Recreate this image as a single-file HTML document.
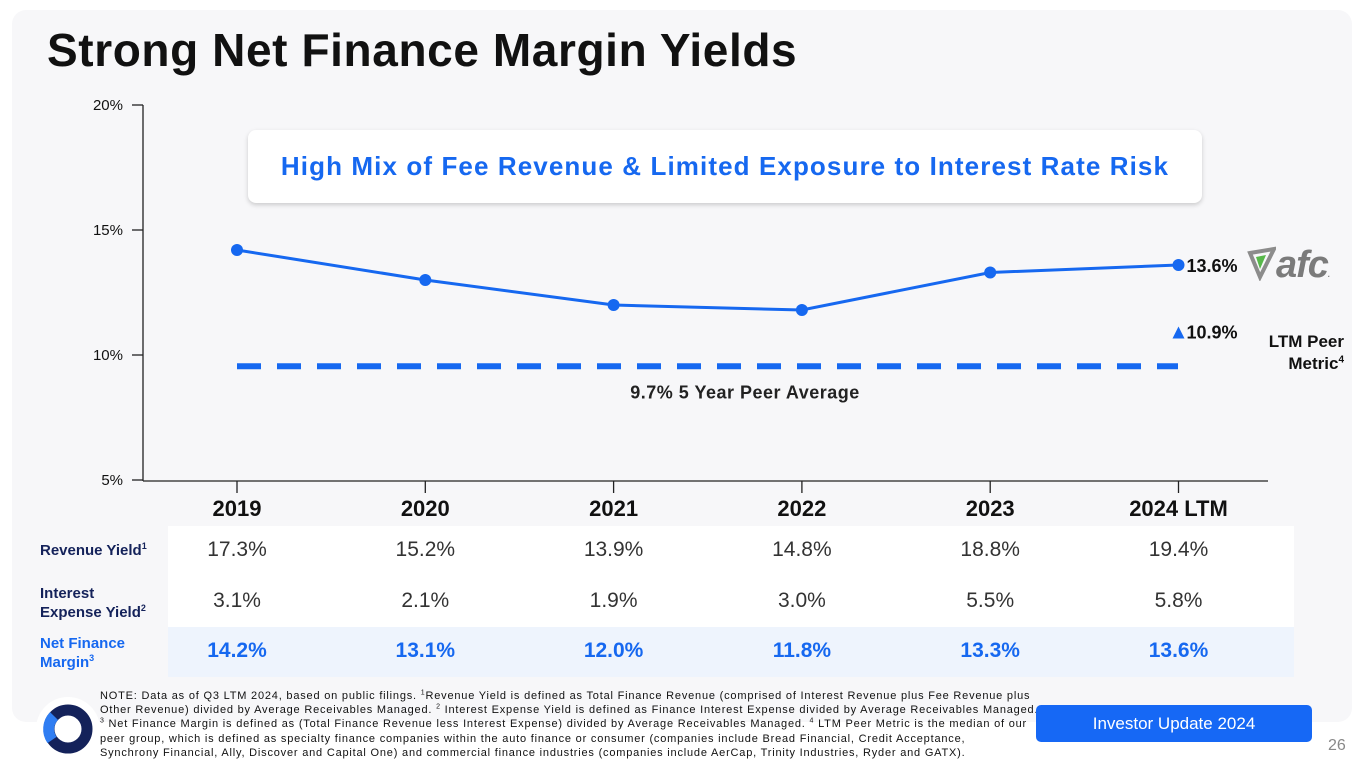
<!DOCTYPE html>
<html><head><meta charset="utf-8"><style>
body{margin:0;width:1365px;height:768px;background:#fff;position:relative;overflow:hidden;font-family:"Liberation Sans",sans-serif}
.abs{position:absolute}
sup{line-height:0;vertical-align:super}
</style></head><body>
<div class="abs" style="left:12px;top:10px;width:1340px;height:712px;background:#f7f7f9;border-radius:14px"></div>
<div class="abs" style="left:47px;top:23px;font-size:46px;font-weight:bold;color:#111;letter-spacing:0.6px">Strong Net Finance Margin Yields</div>
<svg class="abs" style="left:0;top:0" width="1365" height="768">
<g id="g"></g>
</svg>
<div class="abs" style="left:248px;top:130px;width:954px;height:73px;background:#fff;border-radius:8px;box-shadow:0 2px 5px rgba(0,0,0,0.18);text-align:center;line-height:73px;font-size:26px;font-weight:bold;color:#1668f0;letter-spacing:1.1px">High Mix of Fee Revenue &amp; Limited Exposure to Interest Rate Risk</div>
<div class="abs" style="left:1240px;top:331px;width:104px;text-align:right;font-size:17px;font-weight:bold;color:#111;line-height:22px">LTM Peer<br>Metric<sup style="font-size:10px">4</sup></div>
<div class="abs" style="left:1246px;top:244px;font-size:38px;font-weight:bold;font-style:italic;color:#7b7b7b;letter-spacing:-1px">
<svg width="30" height="36" style="vertical-align:-4px"><path d="M4 8 L28 4 L14 32 Z" fill="none" stroke="#8c8c8c" stroke-width="4"/><path d="M10 12 L20 10 L14 24Z" fill="#57b84a"/></svg>afc<span style="font-size:8px">.</span></div>
<div class="abs" style="left:168px;top:526px;width:1126px;height:101px;background:#fff"></div>
<div class="abs" style="left:168px;top:627px;width:1126px;height:50px;background:#eef4fd"></div>
<div class="abs" style="left:40px;top:542px;font-size:15px;font-weight:bold;color:#14225a">Revenue Yield<sup style="font-size:9px">1</sup></div>
<div class="abs" style="left:40px;top:584px;font-size:15px;font-weight:bold;color:#14225a;line-height:19px">Interest<br>Expense Yield<sup style="font-size:9px">2</sup></div>
<div class="abs" style="left:40px;top:634px;font-size:15px;font-weight:bold;color:#1668f0;line-height:19px">Net Finance<br>Margin<sup style="font-size:9px">3</sup></div>
<div id="tbl"></div>
<div class="abs" style="left:36px;top:697px;width:64px;height:64px;border-radius:50%;background:#fff"></div>
<svg class="abs" style="left:40px;top:701px" width="56" height="56"><circle cx="28" cy="28" r="19" fill="none" stroke="#14225a" stroke-width="11"/><path d="M14 15 A19 19 0 0 0 12 39" fill="none" stroke="#2f7df2" stroke-width="11"/></svg>
<div class="abs" style="left:100px;top:689px;white-space:nowrap;font-size:11px;line-height:14.2px;color:#111;letter-spacing:0.8px">NOTE: Data as of Q3 LTM 2024, based on public filings. <sup style="font-size:7px">1</sup>Revenue Yield is defined as Total Finance Revenue (comprised of Interest Revenue plus Fee Revenue plus<br>Other Revenue) divided by Average Receivables Managed. <sup style="font-size:7px">2</sup> Interest Expense Yield is defined as Finance Interest Expense divided by Average Receivables Managed.<br><sup style="font-size:7px">3</sup> Net Finance Margin is defined as (Total Finance Revenue less Interest Expense) divided by Average Receivables Managed. <sup style="font-size:7px">4</sup> LTM Peer Metric is the median of our<br>peer group, which is defined as specialty finance companies within the auto finance or consumer (companies include Bread Financial, Credit Acceptance,<br>Synchrony Financial, Ally, Discover and Capital One) and commercial finance industries (companies include AerCap, Trinity Industries, Ryder and GATX).</div>
<div class="abs" style="left:1036px;top:705px;width:276px;height:37px;background:#1668f5;border-radius:5px;color:#fff;font-size:17px;text-align:center;line-height:37px">Investor Update 2024</div>
<div class="abs" style="left:1328px;top:737px;font-size:16px;color:#888">26</div>
<script>
const years=["2019","2020","2021","2022","2023","2024 LTM"];
const nfm=[14.2,13.0,12.0,11.8,13.3,13.6];
const peerAvg=9.55;
const ltmPeer=10.9;
const yTicks=[5,10,15,20];
const revYield=["17.3%","15.2%","13.9%","14.8%","18.8%","19.4%"];
const intYield=["3.1%","2.1%","1.9%","3.0%","5.5%","5.8%"];
const nfmLabels=["14.2%","13.1%","12.0%","11.8%","13.3%","13.6%"];
const NS="http://www.w3.org/2000/svg";
const g=document.getElementById('g');
const y=v=>105+(20-v)*25;
const x=i=>237+i*188.3;
function el(t,a,txt){const e=document.createElementNS(NS,t);for(const k in a)e.setAttribute(k,a[k]);if(txt!==undefined)e.textContent=txt;g.appendChild(e);return e;}
let ax=el('line',{x1:143,y1:105,x2:143,y2:481,stroke:'#222','stroke-width':1.3});


let xa=el('line',{x1:143,y1:481,x2:1268,y2:481,stroke:'#222','stroke-width':1.3});


yTicks.forEach(v=>{
 el('line',{x1:132,y1:y(v),x2:143,y2:y(v),stroke:'#222','stroke-width':1.3});
 let t=el('text',{x:123,y:y(v)+5,'text-anchor':'end','font-size':15,fill:'#111'},v+'%');
 
 
});
years.forEach((yr,i)=>{
 el('line',{x1:x(i),y1:481,x2:x(i),y2:493,stroke:'#222','stroke-width':1.3});
 let t=el('text',{x:x(i),y:516,'text-anchor':'middle','font-size':22,'font-weight':'bold',fill:'#111'},yr);
 
 
});
let d=el('line',{x1:237,y1:y(peerAvg),x2:1178,y2:y(peerAvg),stroke:'#1668f0','stroke-width':6,'stroke-dasharray':'24 16'});


let pl=el('text',{x:745,y:y(peerAvg)+32,'text-anchor':'middle','font-size':18,'font-weight':'bold',fill:'#222','letter-spacing':0.5},'9.7%  5 Year Peer Average');


let ln=el('polyline',{points:nfm.map((v,i)=>x(i)+','+y(v)).join(' '),fill:'none',stroke:'#1668f0','stroke-width':3});


nfm.forEach((v,i)=>{
 let c=el('circle',{cx:x(i),cy:y(v),r:6,fill:'#1668f0'});
 
 
});
let lastI=nfm.length-1;
let l1=el('text',{x:x(lastI)+8,y:y(nfm[lastI])+7,'font-size':18,'font-weight':'bold',fill:'#111'},nfmLabels[lastI]);


let ty=y(ltmPeer);
let tri=el('polygon',{points:`${x(lastI)-6},${ty+6} ${x(lastI)+6},${ty+6} ${x(lastI)},${ty-6}`,fill:'#1668f0'});


let l2=el('text',{x:x(lastI)+8,y:ty+6,'font-size':18,'font-weight':'bold',fill:'#111'},ltmPeer.toFixed(1)+'%');


const tbl=document.getElementById('tbl');
function cell(txt,i,top,style,name){const e=document.createElement('div');e.className='abs';e.textContent=txt;e.style.cssText=`left:${x(i)-80}px;top:${top}px;width:160px;text-align:center;${style}`;


tbl.appendChild(e);}
years.forEach((_,i)=>{
 cell(revYield[i],i,538,'font-size:21px;color:#333','revenue-yield-cell');
 cell(intYield[i],i,589,'font-size:21px;color:#333','interest-yield-cell');
 cell(nfmLabels[i],i,639,'font-size:21px;font-weight:bold;color:#1668f0','nfm-cell');
});
</script>
</body></html>
